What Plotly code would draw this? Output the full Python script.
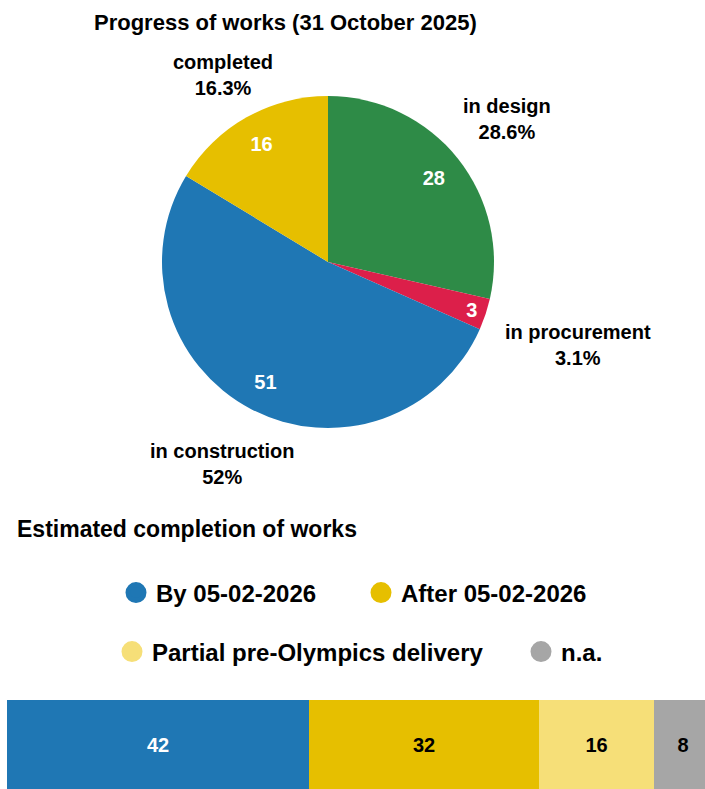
import math
import plotly.graph_objects as go

# ---- data ----
pie_labels = ["in design", "in procurement", "in construction", "completed"]
pie_values = [28, 3, 51, 16]
pie_colors = ["#2e8b47", "#dc1f4a", "#1f77b4", "#e6bf00"]

bar_names = ["By 05-02-2026", "After 05-02-2026", "Partial pre-Olympics delivery", "n.a."]
bar_values = [42, 32, 16, 8]
bar_colors = ["#1f77b4", "#e6bf00", "#f6df78", "#a6a6a6"]
bar_text_colors = ["white", "black", "black", "black"]

title_top = "Progress of works (31 October 2025)"
title_bottom = "Estimated completion of works"

FONT = "Liberation Sans"
W, H = 705, 789

total = sum(pie_values)


def pct(v):
    s = f"{100 * v / total:.1f}"
    if s.endswith(".0"):
        s = s[:-2]
    return s + "%"


fig = go.Figure()

# pie geometry (pixels)
cx, cy, r = 328, 262, 166
pie_domain = dict(x=[(cx - r) / W, (cx + r) / W], y=[1 - (cy + r) / H, 1 - (cy - r) / H])

# coloured slices
fig.add_trace(go.Pie(
    labels=pie_labels, values=pie_values, sort=False, direction="clockwise",
    marker=dict(colors=pie_colors, line=dict(width=0)),
    textinfo="none", domain=pie_domain, showlegend=False, hoverinfo="skip",
))
# value labels placed in an invisible ring near the rim
fig.add_trace(go.Pie(
    labels=pie_labels, values=pie_values, sort=False, direction="clockwise", hole=0.63,
    marker=dict(colors=["rgba(0,0,0,0)"] * len(pie_values), line=dict(width=0)),
    texttemplate="%{value}", textposition="inside", insidetextorientation="horizontal",
    textfont=dict(family=FONT, size=20, color="white", weight="bold"),
    domain=pie_domain, showlegend=False, hoverinfo="skip",
))

# category labels outside the pie, along each slice's mid-angle
FS = 20
annotations = []
cum = 0
for lab, v in zip(pie_labels, pie_values):
    mid = (cum + v / 2) / total * 2 * math.pi
    cum += v
    ux, uy = math.sin(mid), -math.cos(mid)
    hw = 0.5 * max(len(lab), len(pct(v))) * 0.55 * FS
    d = 190 + hw * abs(ux)
    px, py = cx + d * ux, cy + d * uy
    annotations.append(dict(
        text=f"{lab}<br>{pct(v)}", x=px / W, y=1 - py / H, xref="paper", yref="paper",
        xanchor="center", yanchor="middle", showarrow=False, align="center",
        font=dict(family=FONT, size=FS, color="black", weight="bold"),
    ))

# stacked bar (runs past the right edge of the picture)
bar_left = 7
for name, val, col, tcol in zip(bar_names, bar_values, bar_colors, bar_text_colors):
    fig.add_trace(go.Bar(
        x=[val], y=[0], orientation="h", width=[1], name=name,
        marker=dict(color=col, line=dict(width=0)),
        text=[str(val)], textposition="inside", insidetextanchor="middle",
        textfont=dict(family=FONT, size=20, color=tcol, weight="bold"),
        showlegend=False, hoverinfo="skip",
    ))

# legend entries (circles), one legend per entry
legend_ids = ["legend", "legend2", "legend3", "legend4"]
for name, col, lid in zip(bar_names, bar_colors, legend_ids):
    fig.add_trace(go.Scatter(
        x=[None], y=[None], mode="markers", name=name,
        marker=dict(symbol="circle", size=16, color=col, line=dict(width=5, color=col)),
        legend=lid, showlegend=True,
    ))

legend_common = dict(
    orientation="h", xanchor="left", yanchor="middle", traceorder="normal",
    font=dict(family=FONT, size=24, color="black", weight="bold"),
    bgcolor="rgba(0,0,0,0)", itemclick=False, itemdoubleclick=False,
)
legend_pos = [(116, 593), (361, 593), (112, 652), (521, 652)]

layout_legends = {}
for lid, (lx, ly) in zip(legend_ids, legend_pos):
    layout_legends[lid] = dict(x=lx / W, y=1 - ly / H, **legend_common)

annotations += [
    dict(text=title_top, x=285 / W, y=1 - 22 / H, xref="paper", yref="paper",
         xanchor="center", yanchor="middle", showarrow=False,
         font=dict(family=FONT, size=22, color="black", weight="bold")),
    dict(text=title_bottom, x=15 / W, y=1 - 529 / H, xref="paper", yref="paper",
         xanchor="left", yanchor="middle", showarrow=False,
         font=dict(family=FONT, size=23, color="black", weight="bold")),
]

fig.update_layout(
    width=W, height=H,
    margin=dict(l=0, r=0, t=0, b=0),
    paper_bgcolor="white", plot_bgcolor="white",
    barmode="stack", bargap=0,
    xaxis=dict(domain=[bar_left / W, 1], range=[0, sum(bar_values) * (W - bar_left) / W],
               visible=False, fixedrange=True),
    yaxis=dict(domain=[0, 89 / H], range=[-0.5, 0.5], visible=False, fixedrange=True),
    annotations=annotations,
    **layout_legends,
)

fig.write_html(
    "out.html",
    config={"displayModeBar": False},
    post_script="document.body.style.margin='0';document.documentElement.style.overflow='hidden';",
)
